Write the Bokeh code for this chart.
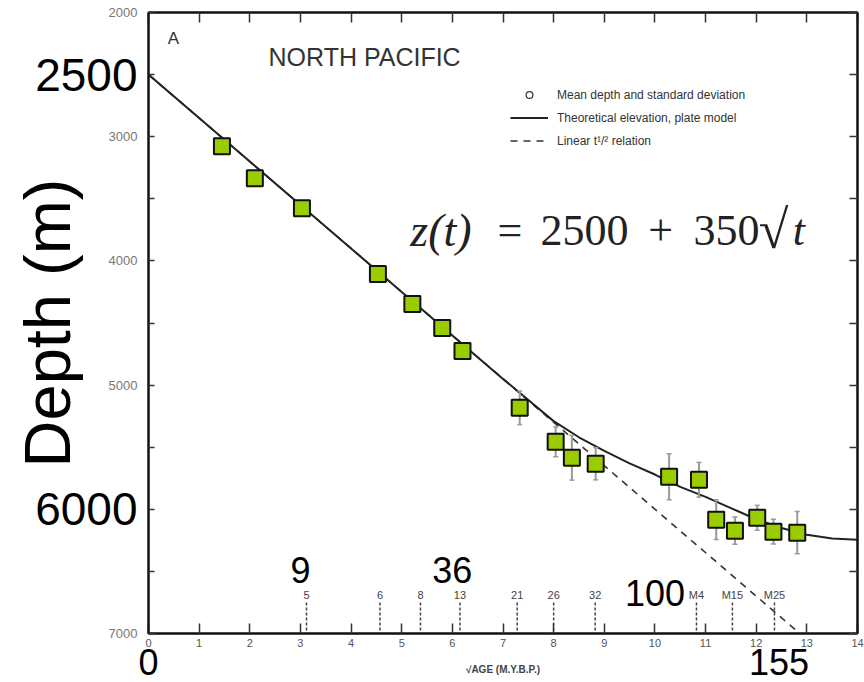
import numpy as np
from bokeh.plotting import figure
from bokeh.models import (Range1d, LinearAxis, FixedTicker, ColumnDataSource,
                          LabelSet, Label, Legend, LegendItem)
from bokeh.core.properties import value
from bokeh.embed import file_html
from bokeh.resources import INLINE

# ---------------- data ----------------
sqrt_age = [1.45, 2.10, 3.03, 4.53, 5.21, 5.80, 6.20, 7.33, 8.04, 8.36, 8.83,
            10.28, 10.87, 11.21, 11.58, 12.02, 12.34, 12.81]
mean_depth = [3077, 3334, 3576, 4106, 4347, 4540, 4725, 5183, 5457, 5585, 5633,
              5738, 5762, 6084, 6172, 6068, 6180, 6188]
std_depth = [40, 60, 50, 40, 50, 40, 50, 135, 120, 180, 130,
             185, 140, 160, 110, 100, 100, 170]

plate_x = [0, 1, 2, 3, 4, 5, 6, 7, 7.5, 8, 8.5, 9, 9.5, 10, 10.5, 11, 11.5,
           12, 12.5, 13, 13.5, 14]
plate_depth = [2500, 2850, 3200, 3550, 3900, 4250, 4600, 4950, 5120, 5290, 5420,
               5530, 5630, 5720, 5820, 5900, 5990, 6080, 6150, 6205, 6235, 6245]

linear_x = [0, 12.86]
linear_depth = [2500, 7000]

anomaly_labels = ["5", "6", "8", "13", "21", "26", "32", "M4", "M15", "M25"]
anomaly_x = [3.12, 4.57, 5.37, 6.15, 7.28, 8.0, 8.82, 10.82, 11.53, 12.36]

x_ticks = list(range(0, 15))
depth_labeled = [2000, 3000, 4000, 5000, 7000]
depth_unlabeled = [2500, 3500, 4500, 5500, 6000, 6500]
depth_all = [2000, 2500, 3000, 3500, 4000, 4500, 5000, 5500, 6000, 6500, 7000]

inner_ages = [9, 36, 100]        # overlay age labels inside the plot
axis_ages = [0, 155]             # overlay age labels under the axis
depth_marks = [2500, 6000]       # overlay depth labels

legend_labels = ["Mean depth and standard deviation",
                 "Theoretical elevation, plate model",
                 "Linear t\u00b9/\u00b2 relation"]

# ---------------- figure ----------------
SANS = "Liberation Sans"
SERIF = "Liberation Serif"

p = figure(frame_width=709, frame_height=621,
           x_range=Range1d(0, 14), y_range=Range1d(7000, 2000),
           x_axis_location=None, y_axis_location=None,
           output_backend="svg", toolbar_location=None,
           min_border_left=148, min_border_right=7,
           min_border_top=12, min_border_bottom=49,
           background_fill_color="white", border_fill_color="white")
p.xgrid.visible = False
p.ygrid.visible = False
p.outline_line_color = "#111111"
p.outline_line_width = 2


def style_axis(ax, tick_len):
    ax.axis_line_color = "#111111"
    ax.axis_line_width = 2
    ax.major_tick_in = tick_len
    ax.major_tick_out = 0
    ax.minor_tick_in = tick_len
    ax.minor_tick_out = 0
    ax.major_tick_line_color = "#333333"
    ax.minor_tick_line_color = "#333333"
    ax.major_tick_line_width = 1.5
    ax.minor_tick_line_width = 1.5


def overlay_axis(ax):
    ax.axis_line_color = None
    ax.major_tick_line_color = None
    ax.minor_tick_line_color = None
    ax.major_tick_in = 0
    ax.major_tick_out = 0
    ax.minor_tick_in = 0
    ax.minor_tick_out = 0
    ax.major_label_text_font = SANS
    ax.major_label_text_color = "black"


# bottom: original small labels
bottom = LinearAxis(ticker=FixedTicker(ticks=x_ticks))
style_axis(bottom, 10)
bottom.major_label_text_font = SANS
bottom.major_label_text_font_size = "11px"
bottom.major_label_text_color = "#555555"
bottom.major_label_standoff = 5
p.add_layout(bottom, "below")

# bottom: big overlay labels 0 / 155 and the axis title
bottom2 = LinearAxis(ticker=FixedTicker(ticks=list(np.sqrt(axis_ages))),
                     major_label_overrides={float(np.sqrt(a)): str(a) for a in axis_ages},
                     axis_label="\u221aAGE (M.Y.B.P.)")
overlay_axis(bottom2)
bottom2.major_label_text_font_size = "36px"
bottom2.major_label_standoff = -1
bottom2.axis_label_text_font = SANS
bottom2.axis_label_text_font_size = "10px"
bottom2.axis_label_text_font_style = "bold"
bottom2.axis_label_text_color = "#444444"
bottom2.axis_label_standoff = -14
p.add_layout(bottom2, "below")

top = LinearAxis(ticker=FixedTicker(ticks=[], minor_ticks=x_ticks))
style_axis(top, 10)
p.add_layout(top, "above")

# left: original small labels
left = LinearAxis(ticker=FixedTicker(ticks=depth_labeled, minor_ticks=depth_unlabeled))
style_axis(left, 6)
left.major_label_text_font = SANS
left.major_label_text_font_size = "13px"
left.major_label_text_color = "#777777"
left.major_label_standoff = 11
p.add_layout(left, "left")

# left: big overlay labels and the axis title
left2 = LinearAxis(ticker=FixedTicker(ticks=depth_marks), axis_label="Depth (m)")
overlay_axis(left2)
left2.major_label_text_font_size = "46px"
left2.major_label_standoff = -32
left2.axis_label_text_font = SANS
left2.axis_label_text_font_size = "65px"
left2.axis_label_text_font_style = "normal"
left2.axis_label_text_color = "black"
left2.axis_label_standoff = -52
p.add_layout(left2, "left")

right = LinearAxis(ticker=FixedTicker(ticks=[], minor_ticks=depth_all))
style_axis(right, 8)
p.add_layout(right, "right")

# ---------------- glyphs ----------------
lin_r = p.line(linear_x, linear_depth, line_color="#333333", line_width=1.6,
               line_dash="7 6")
plate_r = p.line(plate_x, plate_depth, line_color="#222222", line_width=2)

# anomaly markers along the bottom
an_src = ColumnDataSource(dict(x=anomaly_x, text=anomaly_labels))
p.segment(x0="x", y0=6750, x1="x", y1=7000, source=an_src,
          line_color="#444444", line_width=1.5, line_dash="3 2")
p.add_layout(LabelSet(x="x", y=6686, text="text", source=an_src,
                      text_align="center", text_baseline="middle",
                      text_font=value(SANS), text_font_size="11px",
                      text_color="#444444"))

# error bars
xs = np.array(sqrt_age)
md = np.array(mean_depth)
sd = np.array(std_depth)
p.segment(x0=xs, y0=md - sd, x1=xs, y1=md + sd,
          line_color="#9a9a9a", line_width=2)
p.scatter(np.concatenate([xs, xs]), np.concatenate([md - sd, md + sd]),
          marker="dash", size=5, line_color="#9a9a9a", line_width=1.5)

mean_r = p.scatter(xs, md, marker="circle", size=6, fill_color="white",
                   line_color="#333333", line_width=1.2)
p.scatter(xs, md, marker="square", size=16, fill_color="#9acd00",
          line_color="#111111", line_width=2)

# ---------------- legend ----------------
legend = Legend(items=[LegendItem(label=legend_labels[0], renderers=[mean_r]),
                       LegendItem(label=legend_labels[1], renderers=[plate_r]),
                       LegendItem(label=legend_labels[2], renderers=[lin_r])],
                location=(362, 484), glyph_width=38, glyph_height=17,
                label_height=17, spacing=6, padding=0, margin=0,
                label_standoff=9, border_line_alpha=0,
                background_fill_alpha=0, label_text_font=SANS,
                label_text_font_size="12px", label_text_color="#333333")
p.add_layout(legend)

# ---------------- texts ----------------
p.add_layout(Label(x=0.49, y=2209, text="A", text_font=SANS,
                   text_font_size="17px", text_color="#333333",
                   text_align="center", text_baseline="middle"))
p.add_layout(Label(x=2.37, y=2362, text="NORTH PACIFIC", text_font=SANS,
                   text_font_size="25px", text_color="#333333",
                   text_align="left", text_baseline="middle"))

# equation z(t) = 2500 + 350 sqrt(t)
eq_parts = [("z(t)", 5.17, "italic", "46px"), ("=", 6.89, "normal", "44px"),
            ("2500", 7.74, "normal", "44px"), ("+", 9.87, "normal", "44px"),
            ("350", 10.76, "normal", "44px"), ("\u221a", 12.05, "normal", "54px"),
            ("t", 12.72, "italic", "44px")]
for txt, xpos, style, size in eq_parts:
    p.add_layout(Label(x=xpos, y=3755, text=txt, text_font=SERIF,
                       text_font_size=size, text_font_style=style,
                       text_color="#222222", text_align="left",
                       text_baseline="alphabetic"))

in_src = ColumnDataSource(dict(x=np.sqrt(inner_ages), y=[6590, 6590, 6775],
                               text=[str(v) for v in inner_ages]))
p.add_layout(LabelSet(x="x", y="y", text="text", source=in_src,
                      text_align="center", text_baseline="alphabetic",
                      text_font=value(SANS), text_font_size="36px",
                      text_color="black"))

open("out.html", "w").write(file_html(p, INLINE))
